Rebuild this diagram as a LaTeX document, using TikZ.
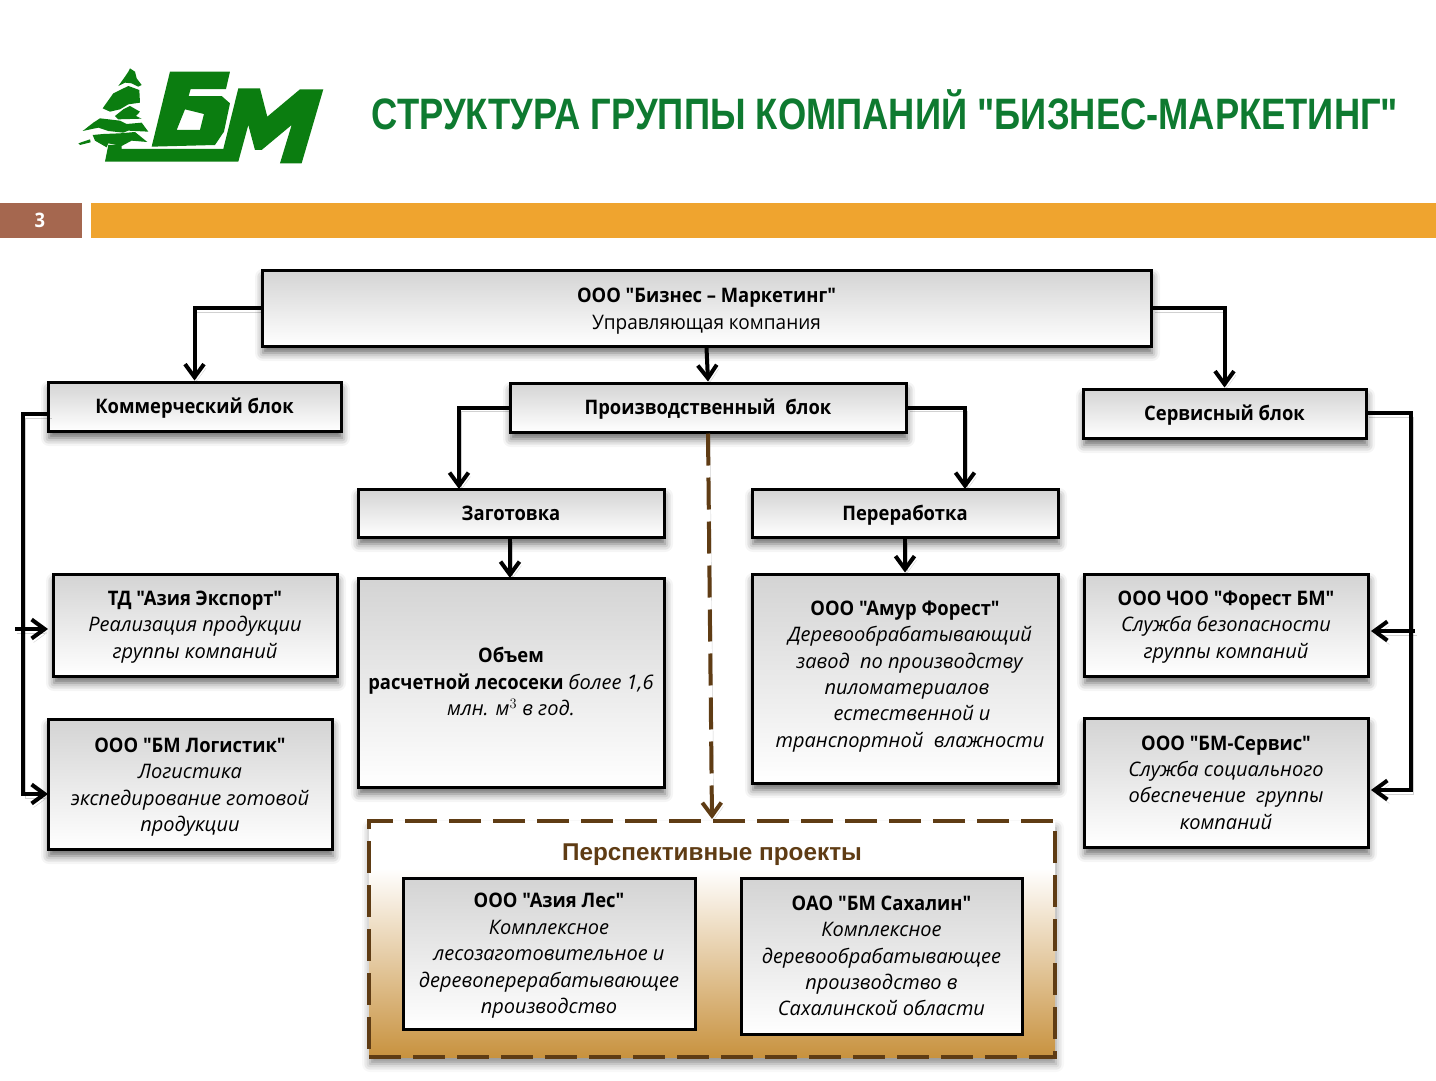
\documentclass[tikz,border=0pt]{standalone}
\usepackage{fontspec}
\usetikzlibrary{arrows.meta,shadows.blur}
\newfontfamily\bodyfont[UprightFeatures={FakeStretch=0.95},BoldFeatures={FakeStretch=0.92}]{Open Sans}
\newfontfamily\titlefont[FakeStretch=0.826]{Liberation Sans}
\newfontfamily\arialfont{Liberation Sans}
\definecolor{bmgreen}{HTML}{0B7D10}
\definecolor{titlegreen}{HTML}{0E7A30}
\definecolor{barorange}{HTML}{EFA42F}
\definecolor{pagebrown}{HTML}{A5674F}
\definecolor{prospect}{HTML}{5F3C14}
\definecolor{prospectlow}{HTML}{C8923F}
\pgfdeclareverticalshading{prospectfill}{100bp}{
  color(0bp)=(prospectlow); color(25bp)=(prospectlow); color(65bp)=(white); color(100bp)=(white)}
\begin{document}
\begin{tikzpicture}
      [x=1pt,y=-1pt,
      every node/.style={align=center,font=\bodyfont\fontsize{20}{26.4}\selectfont},
      boxsize/.style 2 args={minimum width=#1pt,minimum height=#2pt},
      plainbox/.style={draw=black,line width=3pt,inner sep=0pt,top color=black!17,bottom color=white},
      blockbox/.style={plainbox,
        blur shadow={shadow xshift=1pt,shadow yshift=-7pt,shadow blur radius=8pt,shadow opacity=60}},
      oneline/.style={text height=19pt,text depth=5pt},
      conn/.style={draw=black,line width=4pt,-{Straight Barb[length=13pt,width=19pt]},
        preaction={draw=black,opacity=.18,transform canvas={xshift=2pt,yshift=-4pt}}},
      ]
      \useasboundingbox (0,0) rectangle (1436,1080);
      % logo
      \begin{scope}[shift={(60,50)},x=.3333pt,y=-.3333pt]
        \fill[bmgreen,even odd rule] (330,65) -- (510,65) -- (498,117) -- (392,117) -- (386,138) -- (485,138)
          -- (510,160) -- (492,245) -- (465,285) -- (275,290) -- cycle
          (375,178) -- (432,192) -- (420,240) -- (350,240) -- cycle;
        \fill[bmgreen] (535,115) -- (600,115) -- (622,200) -- (720,118) -- (790,118) -- (725,340) -- (660,340)
          -- (695,225) -- (605,300) -- (585,300) -- (565,225) -- (535,335) -- (135,335) -- (145,285) -- (185,285)
          -- (185,297) -- (490,297) -- cycle;
        \fill[bmgreen] (210,55) -- (225,65) -- (230,85) -- (245,105) -- (235,110) -- (215,100) -- (195,98) -- (175,108)
          -- (195,80) -- (205,65) -- cycle;
        \fill[bmgreen] (205,108) -- (238,120) -- (240,158) -- (205,163) -- (180,178) -- (150,185) -- (128,175) -- (160,130) -- cycle;
        \fill[bmgreen] (210,168) -- (240,185) -- (228,198) -- (245,206) -- (175,208) -- (165,198) -- (190,178) -- cycle;
        \fill[bmgreen] (120,205) -- (180,212) -- (200,222) -- (245,218) -- (265,245) -- (205,242) -- (190,248) -- (145,243)
          -- (115,233) -- (68,243) -- (100,218) -- cycle;
        \fill[bmgreen] (98,255) -- (130,252) -- (180,250) -- (225,246) -- (262,276) -- (215,272) -- (185,288) -- (145,280)
          -- (140,292) -- (105,272) -- cycle;
        \fill[bmgreen] (55,280) -- (90,268) -- (92,277) -- (60,285) -- cycle;
      \end{scope}
      % header
      \node (title) at (885,110) [font=\titlefont\bfseries\fontsize{44}{50}\selectfont,text=titlegreen]
        {СТРУКТУРА ГРУППЫ КОМПАНИЙ "БИЗНЕС-МАРКЕТИНГ"};
      \node (page) at (41,220.5) [fill=pagebrown,boxsize={82}{35},inner sep=0pt,text=white,font=\bodyfont\bfseries\fontsize{20}{24}\selectfont] {\hspace*{-2pt}3};
      \node (bar) at (763.5,220.5) [fill=barorange,boxsize={1345}{35},inner sep=0pt] {};
      % top row
      \node (mgmt) at (706.5,308) [blockbox,boxsize={889}{76}] {\rule{0pt}{21pt}\textbf{ООО "Бизнес – Маркетинг"}\\Управляющая компания};
      \node (comm) at (194.5,406.5) [blockbox,oneline,boxsize={293}{49}] {\textbf{Коммерческий блок}};
      \node (prod) at (708,407.5) [blockbox,oneline,boxsize={396}{49}] {\textbf{Производственный\ \ блок}};
      \node (serv) at (1224.5,413.5) [blockbox,oneline,boxsize={283}{49}] {\textbf{Сервисный блок}};
      \node (cut) at (511,513) [blockbox,oneline,boxsize={306}{48}] {\textbf{Заготовка}};
      \node (proc) at (905,513) [blockbox,oneline,boxsize={306}{48}] {\textbf{Переработка}};
      % companies
      \node (export) at (195,625) [blockbox,boxsize={284}{102}] {\rule{0pt}{18pt}\textbf{ТД "Азия Экспорт"}\\\textit{Реализация продукции}\\\textit{группы компаний}};
      \node (logist) at (190,784) [blockbox,boxsize={284}{130}] {\rule{0pt}{21pt}\textbf{ООО "БМ Логистик"}\\\textit{Логистика}\\\textit{экспедирование готовой}\\\textit{продукции}};
      \node (volume) at (511,682.5) [blockbox,boxsize={306}{209}] {\textbf{Объем}\\\textbf{расчетной лесосеки} \textit{более 1,6}\\\textit{млн. м$^{3}$ в год.}\rule[-2pt]{0pt}{0pt}};
      \node (amur) at (905,678.5) [blockbox,boxsize={306}{209}] {\textbf{ООО "Амур Форест"}\\\hspace*{10pt}\textit{Деревообрабатывающий}\\\hspace*{10pt}\textit{завод\ \ по производству}\\\hspace*{4pt}\textit{пиломатериалов}\\\hspace*{14pt}\textit{естественной и}\\\hspace*{10pt}\textit{транспортной\ \ влажности}\rule[-9pt]{0pt}{0pt}};
      \node (guard) at (1226,625) [blockbox,boxsize={284}{102}] {\rule{0pt}{18pt}\textbf{ООО ЧОО "Форест БМ"}\\\textit{Служба безопасности}\\\textit{группы компаний}};
      \node (social) at (1226,782.5) [blockbox,boxsize={284}{129}] {\textbf{ООО "БМ-Сервис"}\\\textit{Служба социального}\\\textit{обеспечение\ \ группы}\\\textit{компаний}};
      % prospects
      \node (prosp) at (712,939) [draw=prospect,line width=4pt,dash pattern=on 32pt off 12pt,shading=prospectfill,boxsize={686}{236},
        blur shadow={shadow xshift=1pt,shadow yshift=-7pt,shadow blur radius=8pt,shadow opacity=45}] {};
      \node (prosptitle) at (712,855) [font=\arialfont\bfseries\fontsize{24.3}{28}\selectfont,text=prospect] {Перспективные проекты};
      \node (asia) at (549,953.5) [plainbox,boxsize={292}{151}] {\rule{0pt}{19pt}\textbf{ООО "Азия Лес"}\\\textit{Комплексное}\\\textit{лесозаготовительное и}\\\textit{деревоперерабатывающее}\\\textit{производство}};
      \node (sakh) at (881.5,956) [plainbox,boxsize={281}{156}] {\textbf{ОАО "БМ Сахалин"}\\\textit{Комплексное}\\\textit{деревообрабатывающее}\\\textit{производство в}\\\textit{Сахалинской области}};
      % free ends
      \coordinate (commout) at (50,414);
      \coordinate (commtrunk) at (23,414);
      \coordinate (exportin) at (15,629);
      \coordinate (exporttip) at (48,629);
      \coordinate (logisttip) at (48,794);
      \coordinate (servout) at (1367,413);
      \coordinate (servtrunk) at (1411,413);
      \coordinate (guardin) at (1415,631);
      \coordinate (guardtip) at (1371,631);
      \coordinate (socialtip) at (1371,790);
      \coordinate (cutin) at (459,489);
      \coordinate (procin) at (965,489);
      \coordinate (cutout) at (510,538);
      \coordinate (volumein) at (510,578);
      % connectors
      \draw[conn] (mgmt.west) -| (comm.north);
      \draw[conn] (mgmt.east) -| (serv.north);
      \draw[conn] (mgmt.south) -- (prod.north);
      \draw[conn] (prod.west) -| (cutin);
      \draw[conn] (prod.east) -| (procin);
      \draw[conn] (cutout) -- (volumein);
      \draw[conn] (proc.south) -- (amur.north);
      \draw[conn] (commout) -- (commtrunk) |- (logisttip);
      \draw[conn] (exportin) -- (exporttip);
      \draw[conn] (servout) -- (servtrunk) |- (socialtip);
      \draw[conn] (guardin) -- (guardtip);
      \draw[conn,draw=prospect,dash pattern=on 32pt off 12pt] (prod.south) -- (prosp.north);
      \end{tikzpicture}
\end{document}
